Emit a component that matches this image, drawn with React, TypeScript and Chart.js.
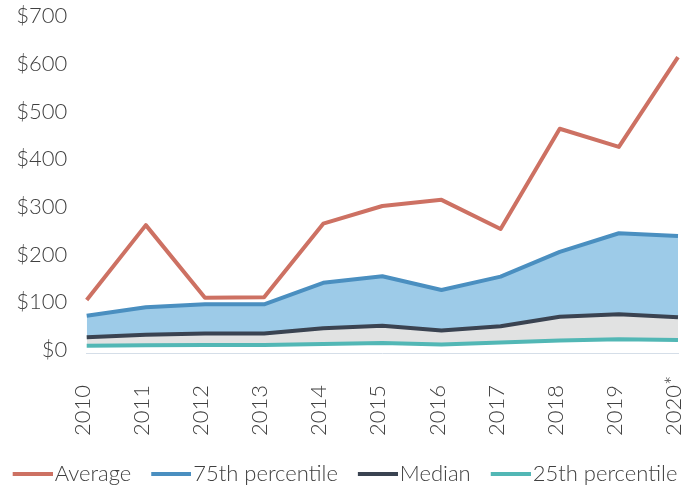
import React, { useEffect, useRef } from 'react';
import { Chart, registerables } from 'chart.js';

Chart.register(...registerables);

const years = ['2010', '2011', '2012', '2013', '2014', '2015', '2016', '2017', '2018', '2019', '2020*'];
const average = [111, 268, 116, 117, 271, 308, 321, 260, 470, 432, 620];
const p75 = [78, 96, 102, 102, 147, 161, 132, 160, 212, 251, 245];
const median = [33, 38, 41, 41, 52, 57, 47, 56, 76, 81, 75];
const p25 = [15, 16, 17, 17, 19, 21, 18, 22, 26, 29, 27];
const yMin = 0;
const yMax = 700;
const yStep = 100;

const seriesNames = ['Average', '75th percentile', 'Median', '25th percentile'];
const lineColors = ['#cd7163', '#4a8fc0', '#3a4351', '#52b7b5'];
const fillColors = ['rgba(0,0,0,0)', '#9dcbe8', '#e1e2e2', 'rgba(0,0,0,0)'];

const FONT = 'Lato';
const TEXT = '#404040';
const FS = 22;

function swatch(color: string): HTMLCanvasElement {
  const c = document.createElement('canvas');
  c.width = 68;
  c.height = 8;
  const ctx = c.getContext('2d')!;
  ctx.fillStyle = color;
  ctx.fillRect(28, 2, 40, 4);
  return c;
}

const legendShift = {
  id: 'legendShift',
  afterLayout(chart: any) {
    const lg = chart.legend;
    if (lg) {
      lg.top += 6;
      lg.bottom += 6;
      lg.left -= 12;
      lg.right -= 12;
    }
  },
};

// Category labels of the x scale, drawn rotated and anchored at their start (bottom)
const xTickLabels = {
  id: 'xTickLabels',
  afterDraw(chart: any) {
    const { ctx } = chart;
    const xs = chart.scales.x;
    const baseY = xs.top + 83;
    ctx.save();
    ctx.font = `300 ${FS}px ${FONT}`;
    ctx.fillStyle = TEXT;
    ctx.textAlign = 'left';
    ctx.textBaseline = 'middle';
    (chart.data.labels as string[]).forEach((lab, i) => {
      const px = xs.getPixelForTick(i);
      ctx.save();
      ctx.translate(px - 4, baseY);
      ctx.rotate(-Math.PI / 2);
      ctx.fillText(lab, 0, 0);
      ctx.restore();
    });
    ctx.restore();
  },
};

export default function App() {
  const ref = useRef<HTMLCanvasElement | null>(null);

  useEffect(() => {
    document.body.style.margin = '0';
    const canvas = ref.current!;
    const values = [average, p75, median, p25];
    const fills: any[] = [false, '+1', '+1', false];
    const chart = new Chart(canvas, {
      type: 'line',
      data: {
        labels: years,
        datasets: values.map((d, i) => ({
          label: seriesNames[i],
          data: d,
          borderColor: lineColors[i],
          backgroundColor: fillColors[i],
          borderWidth: 4,
          pointRadius: 0,
          tension: 0,
          fill: fills[i],
          borderJoinStyle: 'round' as const,
        })),
      },
      plugins: [legendShift, xTickLabels],
      options: {
        responsive: false,
        animation: false,
        layout: { padding: 0 },
        plugins: {
          filler: { drawTime: 'beforeDatasetsDraw' },
          tooltip: { enabled: false },
          legend: {
            position: 'bottom',
            labels: {
              usePointStyle: true,
              pointStyleWidth: 50,
              boxHeight: 8,
              padding: 1,
              color: TEXT,
              font: { family: FONT, size: FS, weight: '300' as any },
              generateLabels: (ch: any) => {
                const items = Chart.defaults.plugins.legend.labels.generateLabels(ch);
                return items.map((it: any, i: number) => ({
                  ...it,
                  pointStyle: swatch(lineColors[i]),
                  lineWidth: 0,
                }));
              },
            },
          },
        },
        scales: {
          x: {
            grid: { display: false, drawTicks: false },
            border: { display: true, color: '#d5dee8', width: 1 },
            ticks: { display: false, autoSkip: false },
            afterFit: (s: any) => {
              s.height = 103;
              s.paddingLeft = 0;
              s.paddingRight = 17;
            },
          },
          y: {
            min: yMin,
            max: yMax,
            grid: { display: false, drawTicks: false },
            border: { display: false },
            ticks: {
              stepSize: yStep,
              padding: 19.5,
              labelOffset: -3,
              color: TEXT,
              font: { family: FONT, size: FS, weight: '300' as any },
              callback: (v: any) => '$' + v,
            },
            afterFit: (s: any) => {
              s.width = 86.7;
              s.paddingTop = 19;
              s.paddingBottom = 0;
            },
          },
        },
      },
    });
    return () => chart.destroy();
  }, []);

  return <canvas ref={ref} width={695} height={489} style={{ display: 'block' }} />;
}
